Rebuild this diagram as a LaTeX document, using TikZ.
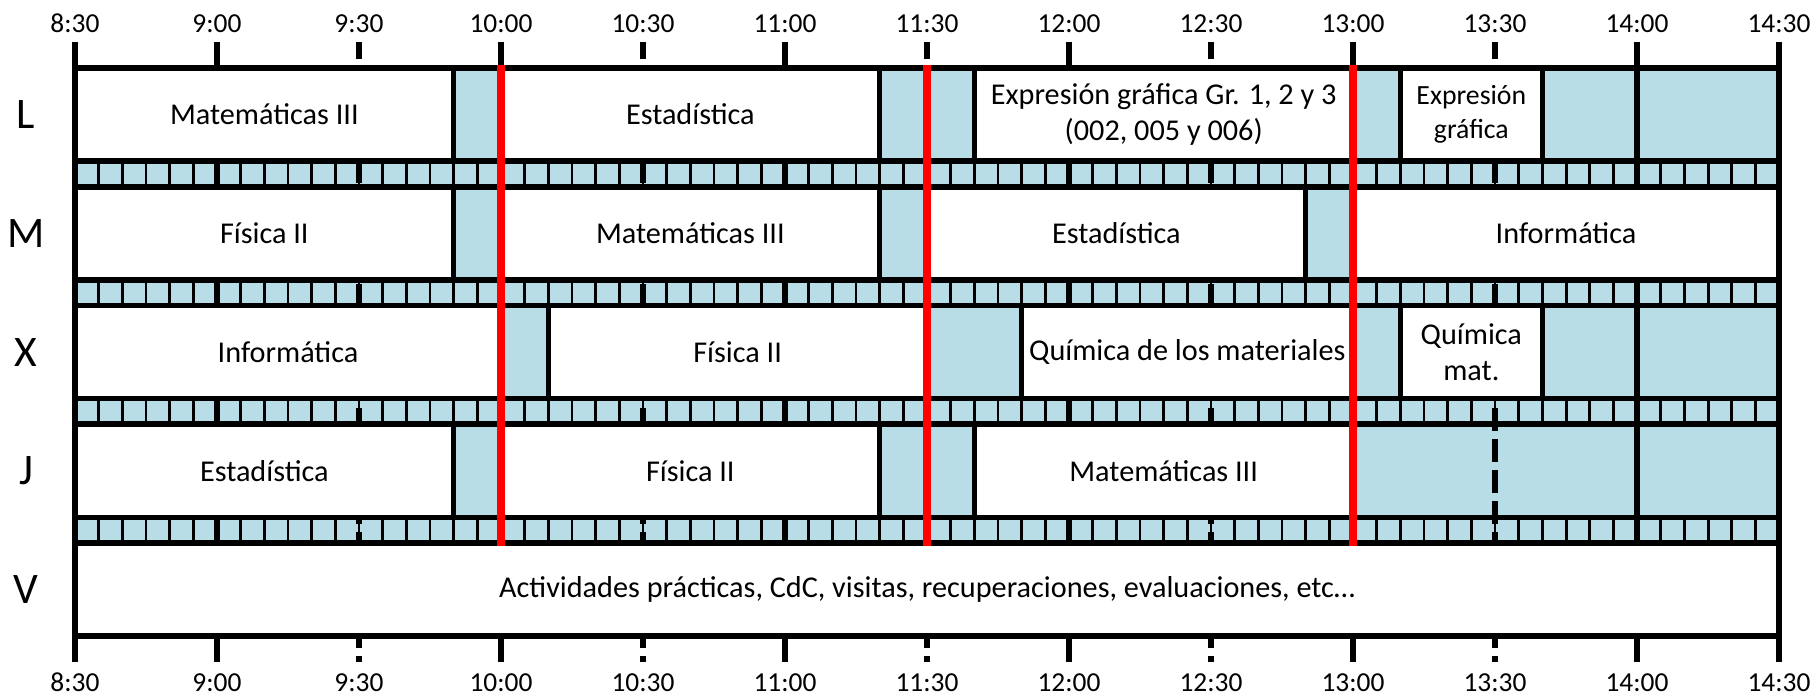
\documentclass[tikz,border=0pt]{standalone}
\usepackage{fontspec}
\setmainfont{Carlito}
\usepackage{tikz}
\usetikzlibrary{positioning}
\definecolor{pausa}{RGB}{184,221,231}
\newcommand{\mn}{0.47333mm}

\begin{document}
\begin{tikzpicture}[x=0.47333mm, y=-0.1mm,
        clase/.style={draw, fill=white, line width=1.6pt, anchor=north west, inner sep=0pt, outer sep=0pt,
                      minimum height=9.32mm, align=center, font=\fontsize{8.6}{10.2}\selectfont},
        hora/.style={anchor=base, font=\fontsize{7.8}{9}\selectfont},
        dia/.style={anchor=base, font=\fontsize{12.4}{14}\selectfont},
        grueso/.style={line width=1.6pt},
        media/.style={grueso, dash pattern=on 2.3mm off 0.8mm, dash phase=0.57mm},
        corte/.style={red, line width=2.1pt}]
        \useasboundingbox (-15.845,-68) rectangle (368.03,627);

        \fill[pausa] (0,0) rectangle (360,474.8);
        \foreach \r in {0,...,3}
            \foreach \m in {5,10,...,355}
                \draw[line width=0.85pt] (\m,\r*118.7+93.2) -- (\m,\r*118.7+118.7);
        \foreach \m in {0,30,90,150,210,270,330,360}
            \draw[grueso] (\m,-26) -- (\m,594);
        \foreach \m in {60,120,...,300}
            \draw[media] (\m,-26) -- (\m,594);
        \foreach \r in {0,...,4}
            \draw[grueso] (0,\r*118.7) -- (360,\r*118.7) (0,\r*118.7+93.2) -- (360,\r*118.7+93.2);

        \node[clase, minimum width=80*\mn] (L1) at (0,0) {Matemáticas III};
        \node[clase, minimum width=80*\mn] (L2) at (90,0) {Estadística};
        \node[clase, minimum width=80*\mn] (L3) at (190,0) {Expresión gráfica Gr. 1, 2 y 3\\(002, 005 y 006)};
        \node[clase, minimum width=30*\mn, font=\fontsize{7.9}{9.6}\selectfont] (L4) at (280,0) {Expresión\\gráfica};

        \node[clase, minimum width=80*\mn] (M1) at (0,118.7) {Física II};
        \node[clase, minimum width=80*\mn] (M2) at (90,118.7) {Matemáticas III};
        \node[clase, minimum width=80*\mn] (M3) at (180,118.7) {Estadística};
        \node[clase, minimum width=90*\mn] (M4) at (270,118.7) {Informática};

        \node[clase, minimum width=90*\mn] (X1) at (0,237.4) {Informática};
        \node[clase, minimum width=80*\mn] (X2) at (100,237.4) {Física II};
        \node[clase, minimum width=70*\mn] (X3) at (200,237.4) {Química de los materiales};
        \node[clase, minimum width=30*\mn] (X4) at (280,237.4) {Química\\mat.};

        \node[clase, minimum width=80*\mn] (J1) at (0,356.1) {Estadística};
        \node[clase, minimum width=80*\mn] (J2) at (90,356.1) {Física II};
        \node[clase, minimum width=80*\mn] (J3) at (190,356.1) {Matemáticas III};

        \node[clase, minimum width=360*\mn] (V1) at (0,474.8) {Actividades prácticas, CdC, visitas, recuperaciones, evaluaciones, etc…};

        \foreach \m in {90,180,270}
            \draw[corte] (\m,-2.85) -- (\m,477.65);

        \foreach \m/\t in {0/8:30, 30/9:00, 60/9:30, 90/10:00, 120/10:30, 150/11:00, 180/11:30,
                           210/12:00, 240/12:30, 270/13:00, 300/13:30, 330/14:00, 360/14:30} {
            \node[hora] (h\m) at (\m,-35.3) {\t};
            \node[hora] (b\m) at (\m,623) {\t};
        }

        \node[dia] (dL) at (-10.35,60.6) {L};
        \node[dia] (dM) at (-10.35,179.3) {M};
        \node[dia] (dX) at (-10.35,298) {X};
        \node[dia] (dJ) at (-10.35,416.7) {J};
        \node[dia] (dV) at (-10.35,535.4) {V};
    \end{tikzpicture}
\end{document}
